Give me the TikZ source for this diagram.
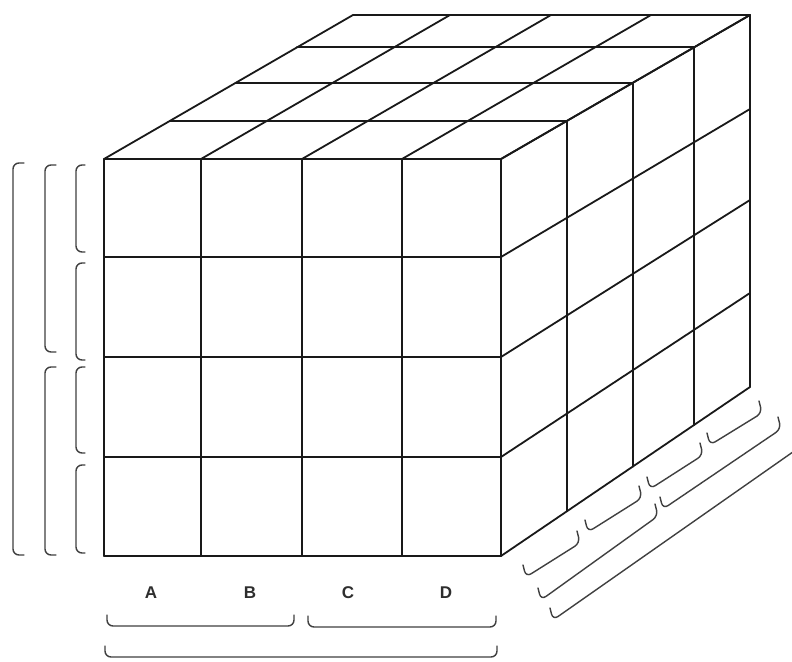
\documentclass[tikz,border=0pt]{standalone}
\usepackage{fontspec}
\setmainfont{Liberation Sans}
\begin{document}
\begin{tikzpicture}[x=1pt,y=-1pt,
  edge/.style={line width=1.8pt, draw=black!90, line cap=round, line join=round},
  brk/.style={line width=1.4pt, draw=black!75, rounded corners=6pt, line cap=round},
  lbl/.style={font=\fontsize{17}{17}\selectfont\bfseries, text=black!82, inner sep=0pt}]
\useasboundingbox (0,0) rectangle (792,661);
\clip (0,0) rectangle (792,661);
\fill[white] (0,0) rectangle (792,661);

% front face grid
\foreach \x in {104,201,302,402,501} \draw[edge] (\x,159) -- (\x,556);
\foreach \y in {159,257,357,457,556} \draw[edge] (104,\y) -- (501,\y);

% top face
\foreach \dx/\dy in {66/38,132/76,193/112,249/144}
  \draw[edge] (104+\dx,159-\dy) -- (501+\dx,159-\dy);
\foreach \x in {104,201,302,402,501} \draw[edge] (\x,159) -- (\x+249,15);

% right face
\foreach \dx/\dy/\b in {66/38/511.2,132/76/466.4,193/112/424.9,249/144/387}
  \draw[edge] (501+\dx,159-\dy) -- (501+\dx,\b);
\foreach \a/\b in {159/15,257/109,357/200,457/293,556/387}
  \draw[edge] (501,\a) -- (750,\b);

% left brackets
\draw[brk] (24,163) -- (13,163) -- (13,555) -- (24,555);
\draw[brk] (56,165) -- (45,165) -- (45,352) -- (56,352);
\draw[brk] (56,367) -- (45,367) -- (45,555) -- (56,555);
\draw[brk] (85,165) -- (76,165) -- (76,252) -- (85,252);
\draw[brk] (85,263) -- (76,263) -- (76,360) -- (85,360);
\draw[brk] (85,367) -- (76,367) -- (76,453) -- (85,453);
\draw[brk] (85,465) -- (76,465) -- (76,553) -- (85,553);

% bottom brackets
\draw[brk] (107,615) -- (107,626) -- (294,626) -- (294,615);
\draw[brk] (308,616) -- (308,627) -- (496,627) -- (496,616);
\draw[brk] (105,646) -- (105,657) -- (497,657) -- (497,646);

% depth brackets
\draw[brk] (523,565) -- (526,577) -- (580,543) -- (577,531);
\draw[brk] (585,520) -- (588,532) -- (642,498) -- (639,486);
\draw[brk] (647,477) -- (650,489) -- (703,455) -- (700,443);
\draw[brk] (707,433) -- (710,445) -- (762,413) -- (759,401);
\draw[brk] (538,588) -- (541,600) -- (658,516) -- (655,504);
\draw[brk] (660,497) -- (663,509) -- (781,429) -- (778,417);
\draw[brk] (550,608) -- (553,620) -- (800,447) -- (797,435);

% labels
\node[lbl] (lA) at (151,593) {A};
\node[lbl] (lB) at (250,593) {B};
\node[lbl] (lC) at (348,593) {C};
\node[lbl] (lD) at (446,593) {D};
\end{tikzpicture}
\end{document}
